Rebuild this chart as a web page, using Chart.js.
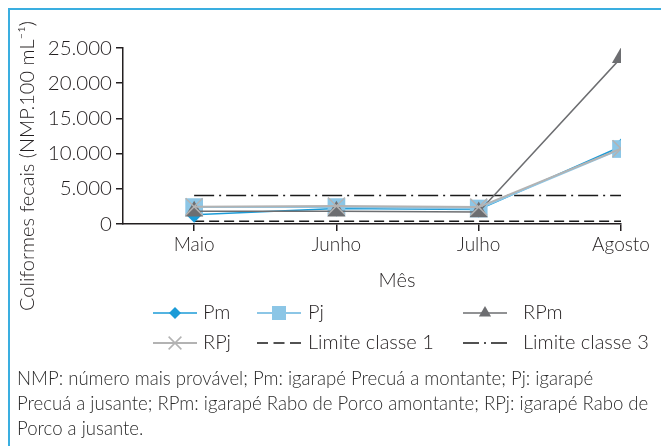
<!DOCTYPE html>
<html>
<head>
<meta charset="utf-8">
<script src="https://cdn.jsdelivr.net/npm/chart.js@4/dist/chart.umd.min.js"></script>
<style>
  body { margin: 0; background: #fff; }
  #wrap { position: relative; width: 661px; height: 446px; overflow: hidden; }
  #frame { position: absolute; left: 8px; top: 8px; right: -4px; bottom: -4px;
           border-top: 2px solid #3aaee0; border-left: 2px solid #3aaee0; }
  #note { position: absolute; left: 17px; top: 366px; font: 300 18.6px 'Lato', sans-serif;
          line-height: 25px; color: #2b2b2b; white-space: nowrap; }
  canvas { position: absolute; left: 0; top: 0; }
</style>
</head>
<body>
<div id="wrap">
  <div id="frame"></div>
  <canvas id="chart" width="661" height="446"></canvas>
  <div id="note">NMP: número mais provável; Pm: igarapé Precuá a montante; Pj: igarapé<br>Precuá a jusante; RPm: igarapé Rabo de Porco amontante; RPj: igarapé Rabo de<br>Porco a jusante.</div>
</div>
<script>
const months = ['Maio', 'Junho', 'Julho', 'Agosto'];
const pm = [1300, 2200, 2050, 11000];
const pj = [2400, 2400, 2200, 10650];
const rpm = [1800, 1800, 1700, 23600];
const rpj = [2450, 2550, 2400, 10700];
const limite1 = [400, 400, 400, 400];
const limite3 = [4050, 4050, 4050, 4050];
const yTicks = [0, 5000, 10000, 15000, 20000, 25000];

const FONT = "'Lato', sans-serif";
const INK = '#231f20';

const pts = arr => arr.map((v, i) => ({x: i, y: v}));
const fmt = v => String(v).replace(/\B(?=(\d{3})+(?!\d))/g, '.');

const datasets = [
  {label: 'Pm', data: pts(pm), borderColor: '#1b9bd7', backgroundColor: '#1b9bd7',
   borderWidth: 1.5, pointStyle: 'rectRot', pointRadius: 8, pointBorderWidth: 0, order: 4},
  {label: 'Pj', data: pts(pj), borderColor: '#8cc6e6', backgroundColor: '#8cc6e6',
   borderWidth: 2, pointStyle: 'rect', pointRadius: 12.5, pointBorderWidth: 0, order: 3},
  {label: 'RPm', data: pts(rpm), borderColor: '#6d6e71', backgroundColor: '#6d6e71',
   borderWidth: 1.5, pointStyle: 'triangle', pointRadius: 10.5, pointBorderWidth: 0, order: 2},
  {label: 'RPj', data: pts(rpj), borderColor: '#b3b3b3', backgroundColor: '#b3b3b3',
   borderWidth: 2, pointStyle: 'crossRot', pointRadius: 12, pointBorderWidth: 1.5, order: 1},
  {label: 'Limite classe 1', data: pts(limite1), borderColor: '#1a1a1a',
   borderWidth: 1.5, borderDash: [10, 5], pointRadius: 0, order: 5},
  {label: 'Limite classe 3', data: pts(limite3), borderColor: '#1a1a1a',
   borderWidth: 1.5, borderDash: [20, 5, 2, 5], pointRadius: 0, order: 6}
];

// legend grid + free texts
const legendCols = [153, 257, 463];
const legendText = [203, 308, 523];
const legendRows = [313, 343];
const legendMarks = [
  {style: 'rectRot', r: 6},
  {style: 'rect', r: 7},
  {style: 'triangle', r: 7},
  {style: 'crossRot', r: 9, dash: []},
  {style: null, dash: [11, 5.5]},
  {style: null, dash: [16, 5, 2, 5]}
];

function mark(ctx, style, x, y, r, color, lw) {
  ctx.save();
  ctx.fillStyle = color; ctx.strokeStyle = color; ctx.lineWidth = lw || 1.5;
  ctx.setLineDash([]);
  ctx.beginPath();
  if (style === 'rectRot') {
    ctx.moveTo(x, y - r); ctx.lineTo(x + r, y); ctx.lineTo(x, y + r); ctx.lineTo(x - r, y);
    ctx.closePath(); ctx.fill();
  } else if (style === 'rect') {
    ctx.rect(x - r, y - r, 2 * r, 2 * r); ctx.fill();
  } else if (style === 'triangle') {
    ctx.moveTo(x, y - r); ctx.lineTo(x + r * 0.87, y + r * 0.5); ctx.lineTo(x - r * 0.87, y + r * 0.5);
    ctx.closePath(); ctx.fill();
  } else if (style === 'crossRot') {
    const d = r * 0.71;
    ctx.moveTo(x - d, y - d); ctx.lineTo(x + d, y + d);
    ctx.moveTo(x + d, y - d); ctx.lineTo(x - d, y + d); ctx.stroke();
  }
  ctx.restore();
}

const extras = {
  id: 'extras',
  afterDraw(chart) {
    const ctx = chart.ctx;
    ctx.save();
    ctx.fillStyle = INK;
    ctx.font = '300 20px ' + FONT;
    ctx.textBaseline = 'middle';
    ctx.textAlign = 'center';
    ctx.fillText('Mês', 397, 281);
    ctx.save();
    ctx.translate(28, 166);
    ctx.rotate(-Math.PI / 2);
    ctx.fillText('Coliformes fecais (NMP.100 mL\u207B\u00B9)', 0, 0);
    ctx.restore();

    ctx.textAlign = 'left';
    ctx.font = '300 20px ' + FONT;
    chart.data.datasets.forEach((ds, i) => {
      const x = legendCols[i % 3], y = legendRows[Math.floor(i / 3)];
      const m = legendMarks[i];
      ctx.save();
      ctx.strokeStyle = ds.borderColor;
      ctx.lineWidth = ds.borderWidth;
      ctx.setLineDash(m.dash || []);
      ctx.beginPath(); ctx.moveTo(x, y); ctx.lineTo(x + 44, y); ctx.stroke();
      ctx.restore();
      if (m.style) mark(ctx, m.style, x + 22, y, m.r, ds.borderColor, 1.5);
      ctx.fillStyle = INK;
      ctx.fillText(ds.label, legendText[i % 3], y);
    });
    ctx.restore();
  }
};

new Chart(document.getElementById('chart'), {
  type: 'line',
  data: {datasets: datasets},
  plugins: [extras],
  options: {
    responsive: false,
    animation: false,
    layout: {padding: {left: 10, top: 48, right: 40, bottom: 144}},
    plugins: {legend: {display: false}, tooltip: {enabled: false}},
    scales: {
      x: {
        type: 'linear', min: -0.5, max: 3,
        afterBuildTicks: s => { s.ticks = months.map((m, i) => ({value: i})); },
        afterFit: s => { s.height = 78; },
        ticks: {callback: v => months[v], color: INK, font: {family: FONT, size: 19, weight: '300'}, padding: 2, maxRotation: 0},
        grid: {drawOnChartArea: false, drawTicks: true, tickLength: 7, color: INK, lineWidth: 1.5},
        border: {color: INK, width: 1.5}
      },
      y: {
        min: 0, max: 25000,
        afterBuildTicks: s => { s.ticks = yTicks.map(v => ({value: v})); },
        afterFit: s => { s.width = 113; },
        ticks: {callback: v => fmt(v), color: INK, font: {family: FONT, size: 20.5, weight: '300'}, padding: 4},
        grid: {drawOnChartArea: false, drawTicks: true, tickLength: 7, color: INK, lineWidth: 1.5},
        border: {color: INK, width: 1.5}
      }
    }
  }
});
</script>
</body>
</html>
